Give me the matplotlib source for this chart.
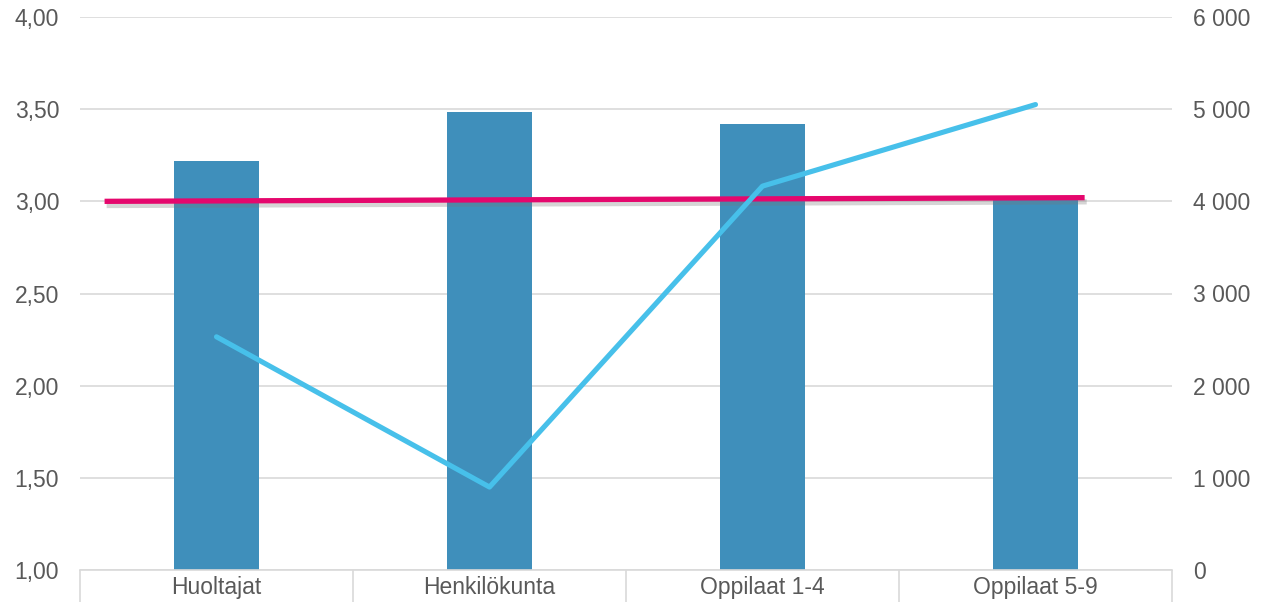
import matplotlib.pyplot as plt
import matplotlib.patheffects as pe
from matplotlib.ticker import FixedLocator, FuncFormatter

plt.rcParams["font.family"] = ["Liberation Sans", "DejaVu Sans"]

ryhmat = ["Huoltajat", "Henkilökunta", "Oppilaat 1-4", "Oppilaat 5-9"]
keskiarvot = [3.22, 3.485, 3.42, 3.02]
vastaajat = [2530, 900, 4165, 5050]
vertailu_x = [-0.41, 3.18]
vertailu_y = [3.00, 3.02]

TEKSTI = "#595959"
RUUDUKKO = "#D9D9D9"
KOKO = 16.5

fig = plt.figure(figsize=(12.63, 6.02), dpi=100)
ax = fig.add_axes([80 / 1263, 32 / 602, 1092 / 1263, 553 / 602])
ax2 = ax.twinx()

x = list(range(len(ryhmat)))
ax.bar(x, keskiarvot, width=0.315, color="#3F8FBB", zorder=2)
ax.set_xlim(-0.5, len(ryhmat) - 0.5)
ax.set_ylim(1.0, 4.0)
ax.set_yticks([1.0, 1.5, 2.0, 2.5, 3.0, 3.5, 4.0])
ax.yaxis.set_major_formatter(FuncFormatter(lambda v, _: f"{v:.2f}".replace(".", ",")))
ax.grid(axis="y", color=RUUDUKKO, linewidth=1.2, zorder=0)
ax.set_axisbelow(True)

ax.set_xticks(x)
ax.set_xticklabels(ryhmat)
ax.xaxis.set_minor_locator(FixedLocator([i - 0.5 for i in range(len(ryhmat) + 1)]))
ax.tick_params(axis="x", which="major", length=0, pad=4, labelsize=KOKO, labelcolor=TEKSTI)
ax.tick_params(axis="x", which="minor", length=24, color=RUUDUKKO, width=1.2)
ax.tick_params(axis="y", length=0, pad=15, labelsize=KOKO, labelcolor=TEKSTI)

for a in (ax, ax2):
    for puoli in ("left", "right", "top"):
        a.spines[puoli].set_visible(False)
ax.spines["bottom"].set_color(RUUDUKKO)
ax.spines["bottom"].set_linewidth(1.2)
ax2.spines["bottom"].set_visible(False)

ax.plot(vertailu_x, vertailu_y, color="#E5076D", linewidth=3.8, solid_capstyle="butt", zorder=4,
        path_effects=[pe.SimpleLineShadow(offset=(1.5, -3), shadow_color="#777777", alpha=0.3),
                      pe.Normal()])

ax2.plot(x, vastaajat, color="#47C0EA", linewidth=3.7, solid_capstyle="round", zorder=5)
ax2.set_ylim(0, 6000)
ax2.set_yticks(range(0, 6001, 1000))
ax2.yaxis.set_major_formatter(FuncFormatter(lambda v, _: f"{int(v):,}".replace(",", " ")))
ax2.tick_params(axis="y", length=0, pad=15, labelsize=KOKO, labelcolor=TEKSTI)

ax.set_zorder(1)
ax2.set_zorder(2)
ax2.patch.set_visible(False)

fig.savefig("out.png", dpi=100)
